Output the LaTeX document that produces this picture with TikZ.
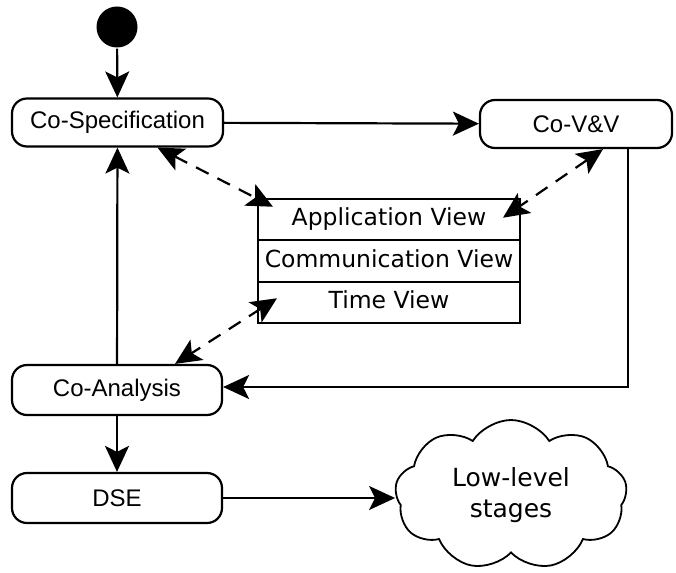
\documentclass[tikz,border=0pt]{standalone}
\usepackage{fontspec}
\setmainfont{Liberation Sans}
\newfontfamily\viewfont{DejaVu Sans}
\usetikzlibrary{arrows.meta,shapes.symbols,positioning,calc}

\tikzset{
  activity/.style={draw, rounded corners=15pt, minimum height=48pt, inner sep=0pt,
    font=\fontsize{24}{28}\selectfont},
  view/.style={draw, minimum width=262pt, minimum height=41.5pt, text height=17pt,
    text depth=5pt, inner sep=0pt, outer sep=0pt, font=\viewfont\fontsize{23.5}{28}\selectfont},
  flow/.style={-{Stealth[length=26pt,width=24pt,inset=6pt]}},
  link/.style={{Stealth[length=26pt,width=24pt,inset=6pt]}-{Stealth[length=26pt,width=24pt,inset=6pt]},
    dash pattern=on 14pt off 10pt},
}

\begin{document}
\begin{tikzpicture}[x=1pt, y=-1pt, line width=2.2pt]
\useasboundingbox (0,0) rectangle (676,572);
\node[circle, fill, minimum size=41pt, inner sep=0pt] (init) at (117,27) {};
\node[activity, minimum width=211pt] (cospec) at (117.5,122.5) {Co-Specification};
\node[activity, minimum width=192pt] (covv) at (576,124) {Co-V\&V};
\node[view] (app) at (389,219.5) {Application View};
\node[view, below=0pt of app] (comm) {Communication View};
\node[view, below=0pt of comm] (time) {Time View};
\node[activity, minimum width=210pt, minimum height=50pt] (coanalysis) at (117,390) {Co-Analysis};
\node[activity, minimum width=210pt, minimum height=50pt] (dse) at (117,498) {DSE};
\node[cloud, draw, cloud puffs=9, cloud puff arc=115, cloud ignores aspect,
  minimum width=232pt, minimum height=150pt, inner sep=0pt, line width=1.8pt,
  align=center, font=\viewfont\fontsize{25}{31}\selectfont] (lowlevel) at (511,495)
  {Low-level\\stages};
\draw[flow] (init) -- (cospec);
\draw[flow] (cospec) -- (covv);
\draw[flow] (coanalysis) -- (cospec);
\draw[flow] (coanalysis) -- (dse);
\draw[flow] ([xshift=52pt]covv.south) |- ([yshift=3pt]coanalysis.east);
\draw[flow] (dse.east) -- (dse.east -| lowlevel.west);
\draw[link] ([xshift=40pt]cospec.south) -- ($(app.north west)+(15,8)$);
\draw[link] ([xshift=27pt]covv.south) -- ($(app.north east)+(-17,19)$);
\draw[link] ($(time.south west)+(19,-25)$) -- ([xshift=58pt]coanalysis.north);
\end{tikzpicture}
\end{document}
